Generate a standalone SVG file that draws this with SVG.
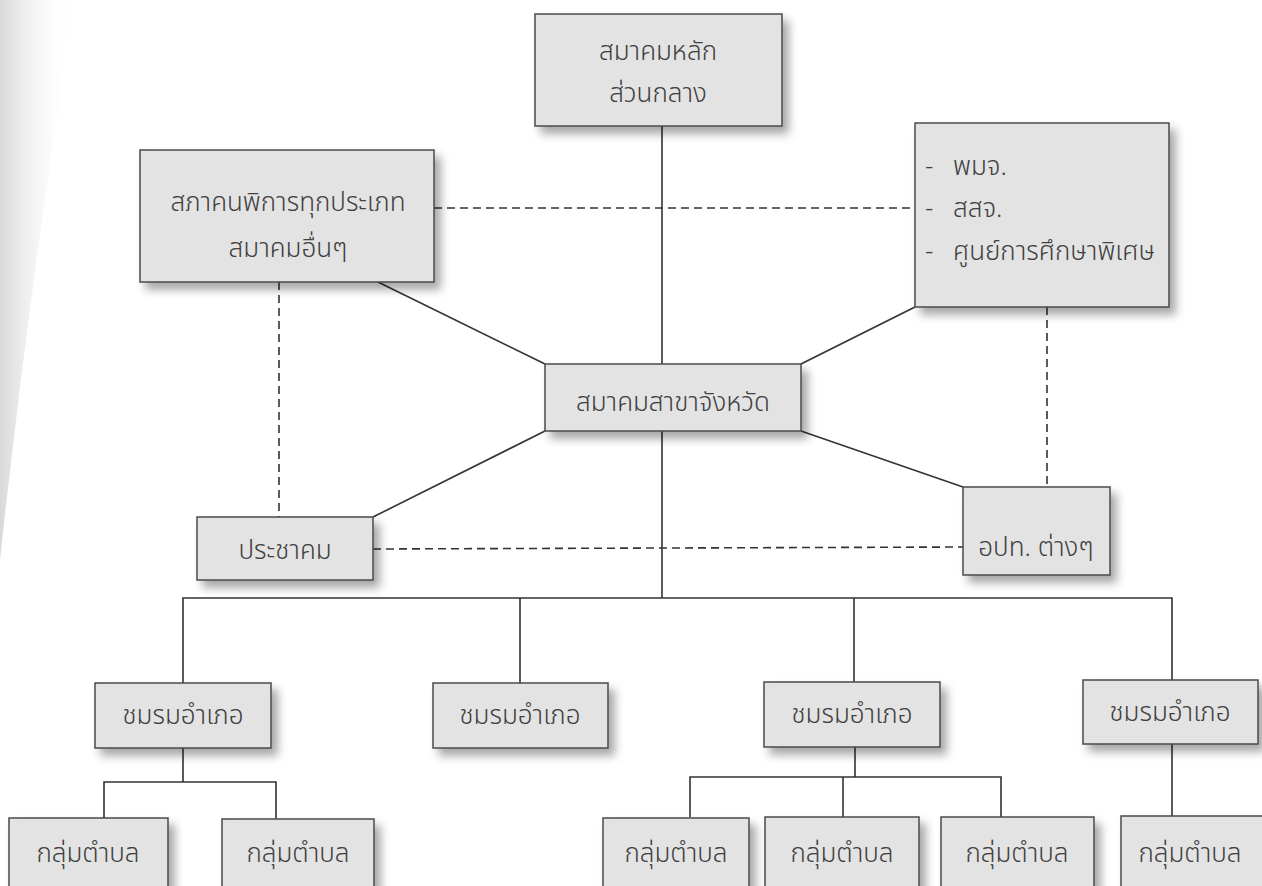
<svg xmlns="http://www.w3.org/2000/svg" width="1262" height="886" viewBox="0 0 1262 886">
  <defs>
    <filter id="sh" x="-10%" y="-10%" width="130%" height="140%">
      <feDropShadow dx="6" dy="7" stdDeviation="5" flood-color="#000" flood-opacity="0.35"/>
    </filter>
    <linearGradient id="edge" x1="0" y1="0" x2="1" y2="0">
      <stop offset="0" stop-color="#d8d8d8"/>
      <stop offset="1" stop-color="#ffffff" stop-opacity="0"/>
    </linearGradient>
  </defs>
  <style>
    .box { fill: #e3e3e3; stroke: #4a4a4a; stroke-width: 1.5; filter: url(#sh); }
    .t { font-family: "Noto Sans Thai", "Noto Sans Thai Looped", "Noto Sans", "DejaVu Sans", sans-serif; font-size: 26px; font-weight: 300; fill: #404040; text-anchor: middle; }
    .tl { text-anchor: start; }
    .ln { stroke: #333; stroke-width: 1.6; fill: none; }
    .dash { stroke: #333; stroke-width: 1.6; fill: none; stroke-dasharray: 8 5; }
  </style>
  <rect width="1262" height="886" fill="#ffffff"/>
  <path d="M0,0 L75,0 Q30,280 0,560 Z" fill="url(#edge)"/>

  <g id="connectors">
    <line class="ln" x1="662" y1="126" x2="662" y2="364"/>
    <line class="ln" x1="662" y1="431" x2="662" y2="598"/>
    <line class="ln" x1="378" y1="282" x2="545" y2="364"/>
    <line class="ln" x1="915" y1="307" x2="801" y2="364"/>
    <line class="ln" x1="545" y1="431" x2="373" y2="517"/>
    <line class="ln" x1="801" y1="431" x2="963" y2="487"/>
    <line class="dash" x1="434" y1="208" x2="915" y2="208"/>
    <line class="dash" x1="279" y1="282" x2="279" y2="517"/>
    <line class="dash" x1="1047" y1="307" x2="1047" y2="487"/>
    <line class="dash" x1="373" y1="549" x2="963" y2="547"/>
    <polyline class="ln" points="183,683 183,598 1172,598 1172,680"/>
    <line class="ln" x1="520" y1="598" x2="520" y2="683"/>
    <line class="ln" x1="854" y1="598" x2="854" y2="682"/>
    <polyline class="ln" points="104,818 104,782 276,782 276,819"/>
    <line class="ln" x1="183" y1="748" x2="183" y2="782"/>
    <polyline class="ln" points="690,817 690,777 1001,777 1001,817"/>
    <line class="ln" x1="855" y1="747" x2="855" y2="777"/>
    <line class="ln" x1="843" y1="777" x2="843" y2="817"/>
    <line class="ln" x1="1172" y1="744" x2="1172" y2="816"/>
  </g>

  <g id="n-central">
    <rect class="box" x="535" y="14" width="247" height="112"/>
    <text class="t" x="658" y="60">สมาคมหลัก</text>
    <text class="t" x="658" y="102">ส่วนกลาง</text>
  </g>
  <g id="n-disabled">
    <rect class="box" x="140" y="150" width="294" height="132"/>
    <text class="t" x="288" y="211">สภาคนพิการทุกประเภท</text>
    <text class="t" x="288" y="257">สมาคมอื่นๆ</text>
  </g>
  <g id="n-agencies">
    <rect class="box" x="915" y="123" width="254" height="184"/>
    <text class="t tl" x="925" y="175">-</text>
    <text class="t tl" x="953" y="175">พมจ.</text>
    <text class="t tl" x="925" y="217">-</text>
    <text class="t tl" x="953" y="217">สสจ.</text>
    <text class="t tl" x="925" y="260">-</text>
    <text class="t tl" x="953" y="260">ศูนย์การศึกษาพิเศษ</text>
  </g>
  <g id="n-province">
    <rect class="box" x="545" y="364" width="256" height="67"/>
    <text class="t" x="673" y="411">สมาคมสาขาจังหวัด</text>
  </g>
  <g id="n-community">
    <rect class="box" x="197" y="517" width="176" height="63"/>
    <text class="t" x="285" y="559">ประชาคม</text>
  </g>
  <g id="n-lao">
    <rect class="box" x="963" y="487" width="147" height="88"/>
    <text class="t" x="1036" y="556">อปท. ต่างๆ</text>
  </g>

  <g id="n-club1">
    <rect class="box" x="95" y="683" width="176" height="65"/>
    <text class="t" x="183" y="724">ชมรมอำเภอ</text>
  </g>
  <g id="n-club2">
    <rect class="box" x="433" y="683" width="175" height="65"/>
    <text class="t" x="520" y="724">ชมรมอำเภอ</text>
  </g>
  <g id="n-club3">
    <rect class="box" x="764" y="682" width="176" height="65"/>
    <text class="t" x="852" y="723">ชมรมอำเภอ</text>
  </g>
  <g id="n-club4">
    <rect class="box" x="1083" y="680" width="175" height="64"/>
    <text class="t" x="1170" y="721">ชมรมอำเภอ</text>
  </g>

  <g id="n-sub1">
    <rect class="box" x="9" y="818" width="159" height="90"/>
    <text class="t" x="88" y="862">กลุ่มตำบล</text>
  </g>
  <g id="n-sub2">
    <rect class="box" x="222" y="819" width="152" height="90"/>
    <text class="t" x="298" y="862">กลุ่มตำบล</text>
  </g>
  <g id="n-sub3">
    <rect class="box" x="603" y="818" width="146" height="90"/>
    <text class="t" x="676" y="862">กลุ่มตำบล</text>
  </g>
  <g id="n-sub4">
    <rect class="box" x="765" y="817" width="154" height="90"/>
    <text class="t" x="842" y="862">กลุ่มตำบล</text>
  </g>
  <g id="n-sub5">
    <rect class="box" x="941" y="817" width="153" height="90"/>
    <text class="t" x="1017" y="862">กลุ่มตำบล</text>
  </g>
  <g id="n-sub6">
    <rect class="box" x="1121" y="816" width="150" height="90"/>
    <text class="t" x="1190" y="862">กลุ่มตำบล</text>
  </g>
</svg>
